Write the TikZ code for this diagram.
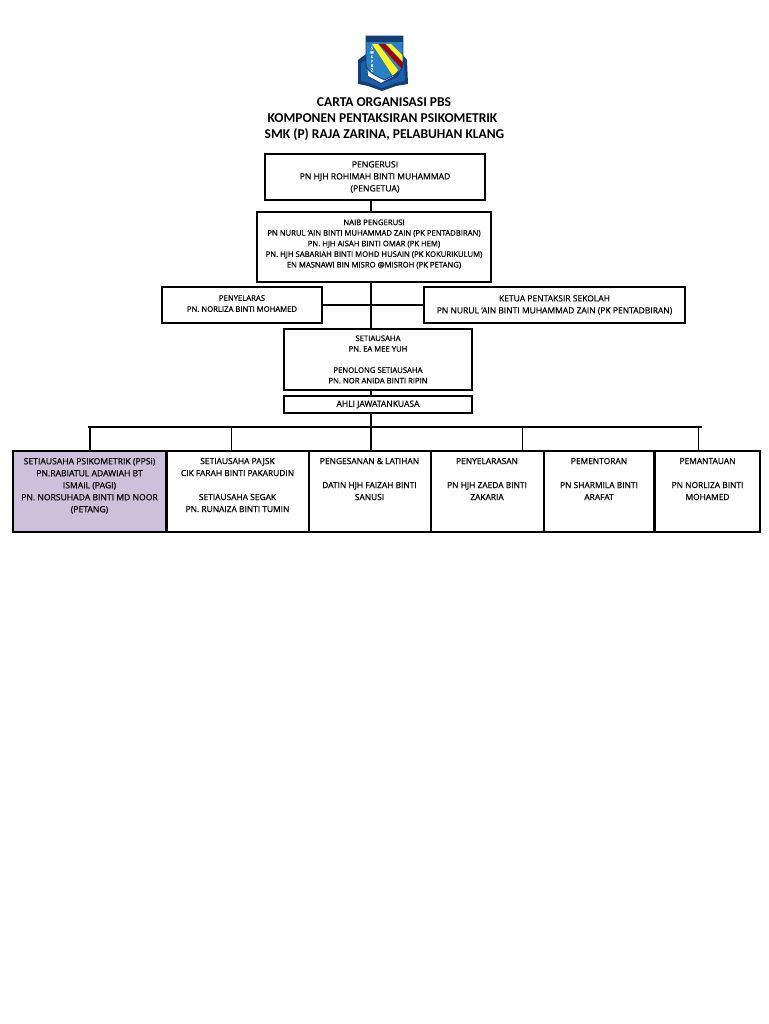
\documentclass[tikz,border=0pt]{standalone}
\usepackage{fontspec}
\setmainfont{Open Sans}[RawFeature={embolden=0.7}]
\newfontfamily\titlefont{Carlito}
\definecolor{lav}{HTML}{CCC0DA}
\definecolor{shieldblue}{HTML}{2A80C4}
\definecolor{navy}{HTML}{123E78}
\definecolor{ribbon}{HTML}{1B5FA8}
\tikzset{
 bx/.style={draw=black,line width=2pt,fill=white,inner sep=0pt,align=center,font=\fontsize{7.7}{#1}\selectfont},
 bx/.default=10.6,
 conn/.style={draw=black,line width=2pt},
 thinconn/.style={draw=black,line width=1pt},
 titletext/.style={font=\titlefont\bfseries\fontsize{13.5}{16}\selectfont,align=center,inner sep=0pt},
}
\newcommand{\topbox}[2]{\parbox[c][73pt][t]{#1pt}{\centering\vspace{3pt}#2}}
\begin{document}
\begin{tikzpicture}[x=1pt,y=-1pt]
\useasboundingbox[fill=white] (0,0) rectangle (768,1024);
% crest
\begin{scope}
\fill[navy] (358,60) -- (366,54) -- (368,76) -- (381,83) -- (394,76) -- (402,54) -- (407,60) -- (408,84) -- (396,86) -- (382,91) -- (368,86) -- (358,84) -- cycle;
\fill[ribbon] (361,63) -- (366,60) -- (368,77) -- (381,84) -- (398,77) -- (404,62) -- (405,81) -- (395,83) -- (382,88) -- (369,83) -- (361,81) -- cycle;
\begin{scope}
\clip (366,36) -- (403,36) -- (403,64) .. controls (403,72) and (392,76) .. (384.5,80) .. controls (377,76) and (366,72) .. (366,64) -- cycle;
\fill[shieldblue] (366,36) rectangle (403,82);
\fill[navy] (366,36) rectangle (403,42);
\fill[yellow!85!white] (372,44) -- (378,44) -- (398,70) -- (393,76) -- cycle;
\fill[red!65!black] (379,44) -- (385,44) -- (403,63) -- (403,70) -- cycle;
\fill[yellow!85!white] (386,44) -- (391,44) -- (403,56) -- (403,62) -- cycle;
\end{scope}
\draw[navy,line width=0.8pt] (366,36) -- (403,36) -- (403,64) .. controls (403,72) and (392,76) .. (384.5,80) .. controls (377,76) and (366,72) .. (366,64) -- cycle;
\node[text=white,inner sep=0pt,font=\fontsize{3.6}{4.4}\selectfont,align=center] (crestletters) at (372,59) {S\\M\\K\\P\\R\\Z};
\end{scope}
% titles
\node[titletext] (t1) at (384,102) {CARTA ORGANISASI PBS};
\node[titletext] (t2) at (382.5,118.5) {KOMPONEN PENTAKSIRAN PSIKOMETRIK};
\node[titletext] (t3) at (384.5,134.5) {SMK (P) RAJA ZARINA, PELABUHAN KLANG};
% trunk
\coordinate (trunk) at (371,0);
\coordinate (hl) at (88,427);
\coordinate (hr) at (702,427);
% boxes
\node[bx=12,minimum width=220pt,minimum height=46pt,font=\fontsize{8.6}{12}\selectfont] (b1) at (375,177) {PENGERUSI\\PN HJH ROHIMAH BINTI MUHAMMAD\\(PENGETUA)};
\node[bx,minimum width=234pt,minimum height=70pt] (b2) at (374,247) {NAIB PENGERUSI\\PN NURUL `AIN BINTI MUHAMMAD ZAIN (PK PENTADBIRAN)\\PN. HJH AISAH BINTI OMAR (PK HEM)\\PN. HJH SABARIAH BINTI MOHD HUSAIN (PK KOKURIKULUM)\\EN MASNAWI BIN MISRO @MISROH (PK PETANG)\\[-3.6pt]\mbox{}};
\node[bx=11,minimum width=160pt,minimum height=36pt] (pen) at (242,305) {PENYELARAS\\PN. NORLIZA BINTI MOHAMED\\[-8pt]\mbox{}};
\node[bx=12,minimum width=261pt,minimum height=36pt,font=\fontsize{8.5}{12}\selectfont] (ket) at (554.5,305) {KETUA PENTAKSIR SEKOLAH\\PN NURUL `AIN BINTI MUHAMMAD ZAIN (PK PENTADBIRAN)};
\node[bx,minimum width=188pt,minimum height=61pt] (set) at (378,359.5) {SETIAUSAHA\\PN. EA MEE YUH\\[10.6pt]PENOLONG SETIAUSAHA\\PN. NOR ANIDA BINTI RIPIN};
\node[bx,minimum width=188pt,minimum height=17pt,font=\fontsize{8.5}{12}\selectfont] (ahli) at (378,404.5) {AHLI JAWATANKUASA};
% bottom row
\node[bx=12,fill=lav,line width=2.4pt,minimum width=153pt,minimum height=81pt,font=\fontsize{8.6}{12}\selectfont] (c1) at (89.5,491.5) {\topbox{150}{SETIAUSAHA PSIKOMETRIK (PPSi)\\PN.RABIATUL ADAWIAH BT\\ISMAIL (PAGI)\\PN. NORSUHADA BINTI MD NOOR\\(PETANG)}};
\node[bx=12,minimum width=142pt,minimum height=81pt,font=\fontsize{8.4}{12}\selectfont] (c2) at (237.5,491.5) {\topbox{138}{SETIAUSAHA PAJSK\\CIK FARAH BINTI PAKARUDIN\\[12pt]SETIAUSAHA SEGAK\\PN. RUNAIZA BINTI TUMIN}};
\node[bx=12,minimum width=122pt,minimum height=81pt,font=\fontsize{8.4}{12}\selectfont] (c3) at (369.5,491.5) {\topbox{118}{PENGESANAN \& LATIHAN\\[12pt]DATIN HJH FAIZAH BINTI\\SANUSI}};
\node[bx=12,minimum width=113pt,minimum height=81pt,font=\fontsize{8.4}{12}\selectfont] (c4) at (487,491.5) {\topbox{110}{PENYELARASAN\\[12pt]PN HJH ZAEDA BINTI\\ZAKARIA}};
\node[bx=12,minimum width=110pt,minimum height=81pt,font=\fontsize{8.4}{12}\selectfont] (c5) at (599,491.5) {\topbox{106}{PEMENTORAN\\[12pt]PN SHARMILA BINTI\\ARAFAT}};
\node[bx=12,minimum width=105pt,minimum height=81pt,font=\fontsize{8.4}{12}\selectfont] (c6) at (707.5,491.5) {\topbox{102}{PEMANTAUAN\\[12pt]PN NORLIZA BINTI\\MOHAMED}};
% connectors
\draw[conn] (b1.south -| trunk) -- (b2.north -| trunk);
\draw[conn] (b2.south -| trunk) -- (set.north -| trunk);
\draw[conn] (pen.east) -- (ket.west);
\draw[conn] (set.south -| trunk) -- (ahli.north -| trunk);
\draw[conn] (ahli.south -| trunk) -- (c3.north -| trunk);
\draw[conn] (hl) -- (hr);
\draw[conn] (90,427) -- (90,451);
\draw[thinconn] (231,427) -- (231,451);
\draw[thinconn] (522,427) -- (522,451);
\draw[thinconn] (698,427) -- (698,451);
\end{tikzpicture}
\end{document}
